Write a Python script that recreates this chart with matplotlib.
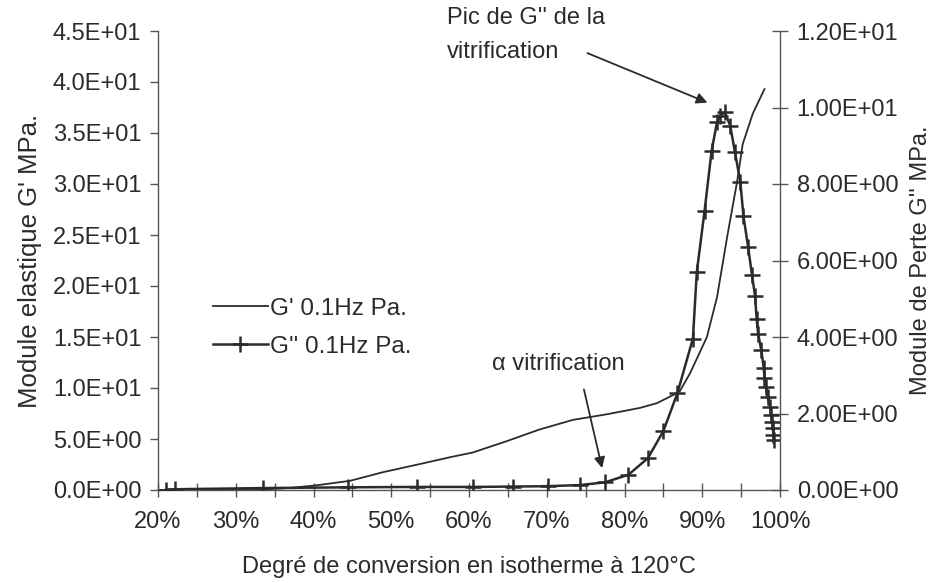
import matplotlib
matplotlib.use('Agg')
import matplotlib.pyplot as plt
from matplotlib.ticker import MultipleLocator, FormatStrFormatter, FuncFormatter

plt.rcParams['font.family'] = ['Liberation Sans', 'DejaVu Sans']

INK = '#2b2b2b'

# G' (left axis, MPa) vs conversion (%)
gp_conv = [20.3, 26.0, 30.0, 33.5, 37.0, 40.4, 44.7, 48.9, 53.3, 57.6, 60.5, 64.9, 69.1,
           73.4, 77.7, 82.0, 84.2, 86.2, 87.1, 88.4, 90.6, 91.9, 93.2, 94.5, 95.2, 96.5, 98.0]
gp_val = [0.0, 0.02, 0.04, 0.06, 0.2, 0.46, 0.9, 1.74, 2.48, 3.22, 3.68, 4.8, 5.94,
          6.88, 7.42, 8.05, 8.52, 9.29, 9.67, 11.4, 15.0, 18.9, 24.8, 30.3, 33.9, 36.9, 39.3]

# G'' (right axis, MPa) vs conversion (%)
gpp_conv = [21.0, 22.2, 33.5, 44.4, 53.3, 60.5, 65.7, 70.2, 74.3, 77.5, 80.5, 83.0, 85.0,
            86.8, 88.8, 89.3, 90.3, 91.2, 91.9, 92.3, 92.9, 93.6, 94.2, 94.9, 95.3, 95.9,
            96.4, 96.8, 97.0, 97.2, 97.6, 97.9, 98.0, 98.2, 98.4, 98.7, 98.9, 99.0, 99.1,
            99.15, 99.2]
gpp_val = [0.0, 0.02, 0.05, 0.07, 0.08, 0.08, 0.09, 0.1, 0.13, 0.2, 0.4, 0.83, 1.54,
           2.53, 3.96, 5.7, 7.3, 8.86, 9.62, 9.78, 9.88, 9.52, 8.84, 8.05, 7.16, 6.35,
           5.62, 5.06, 4.46, 4.07, 3.65, 3.2, 2.94, 2.68, 2.44, 2.18, 1.97, 1.79, 1.63,
           1.45, 1.32]

fig = plt.figure(figsize=(9.32, 5.83), dpi=100)
ax = fig.add_axes([158 / 932, 93 / 583, 622 / 932, 459 / 583])
ax2 = ax.twinx()

l1, = ax.plot(gp_conv, gp_val, color=INK, lw=1.3, label="G' 0.1Hz Pa.")
l2, = ax2.plot(gpp_conv, gpp_val, color=INK, lw=1.8, marker='+', ms=12, mew=1.8,
               label="G'' 0.1Hz Pa.")

ax.set_xlim(20, 100)
ax.set_ylim(0, 45)
ax2.set_ylim(0, 12)

ax.xaxis.set_major_locator(MultipleLocator(10))
ax.xaxis.set_minor_locator(MultipleLocator(5))
ax.xaxis.set_major_formatter(FuncFormatter(lambda v, p: f'{v:.0f}%'))
ax.yaxis.set_major_locator(MultipleLocator(5))
ax.yaxis.set_major_formatter(FormatStrFormatter('%.1E'))
ax2.yaxis.set_major_locator(MultipleLocator(2))
ax2.yaxis.set_major_formatter(FormatStrFormatter('%.2E'))

for a in (ax, ax2):
    for s in a.spines.values():
        s.set_color('#555555')
        s.set_linewidth(1.0)
    a.spines['top'].set_visible(False)
ax.spines['right'].set_visible(False)
ax2.spines['left'].set_visible(False)
ax2.spines['bottom'].set_visible(False)

ax.tick_params(axis='x', which='both', direction='inout', length=10, width=1,
               color='#555555', labelsize=17, labelcolor=INK, pad=10)
ax.tick_params(axis='y', direction='out', length=6, width=1, color='#555555',
               labelsize=17, labelcolor=INK, pad=6)
ax2.tick_params(axis='y', direction='inout', length=12, width=1, color='#555555',
                labelsize=17, labelcolor=INK, pad=6)

ax.set_xlabel('Degré de conversion en isotherme à 120°C', fontsize=17, color=INK, labelpad=17)
ax.set_ylabel("Module elastique G' MPa.", fontsize=18.5, color=INK, labelpad=8)
ax2.set_ylabel("Module de Perte G'' MPa.", fontsize=17, color=INK, labelpad=8)

ax2.legend(handles=[l1, l2], loc='upper left', bbox_to_anchor=(0.072, 0.44), frameon=False,
           fontsize=17.5, handlelength=2.3, handletextpad=0.08, labelspacing=0.65,
           borderaxespad=0, labelcolor=INK)

# annotations
fig.text(447 / 932, 1 - 7 / 583, "Pic de G'' de la\nvitrification", fontsize=17,
         color=INK, va='top', ha='left', linespacing=1.7)
ax2.annotate('', xy=(91.0, 10.1), xytext=(74.9, 11.45),
             arrowprops=dict(arrowstyle='-|>', color=INK, lw=1.3, mutation_scale=16))
ax2.text(62.9, 3.3, 'α vitrification', fontsize=17, color=INK, ha='left', va='center')
ax2.annotate('', xy=(77.2, 0.5), xytext=(74.7, 2.7),
             arrowprops=dict(arrowstyle='-|>', color=INK, lw=1.3, mutation_scale=16))

fig.savefig('out.png', dpi=100)
